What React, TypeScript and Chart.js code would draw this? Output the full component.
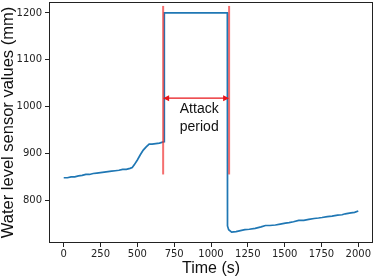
import React, { useEffect, useRef } from "react";
import { Chart, registerables } from "chart.js";

Chart.register(...registerables);

// ---- data ----
const timeS = [
  0, 25, 50, 75, 100, 125, 150, 175, 200, 225, 250, 275, 300, 325, 350, 375, 400, 425, 450, 465,
  480, 500, 520, 540, 560, 580, 600, 625, 650, 682, 683, 1111, 1112, 1120, 1140, 1170, 1200, 1230,
  1260, 1300, 1340, 1370, 1400, 1437, 1470, 1505, 1530, 1560, 1596, 1630, 1664, 1700, 1730, 1754,
  1790, 1822, 1860, 1890, 1912, 1950, 1975, 2000,
];
const waterLevel = [
  848, 848, 850, 850, 852, 853, 855, 855, 857, 858, 859, 860, 861, 862, 863, 864, 866, 866, 868, 870,
  876, 886, 897, 907, 914, 920, 920, 921, 922, 925, 1200, 1200, 745, 737, 732, 733, 735, 737,
  738, 740, 743, 746, 746, 747, 749, 751, 752, 754, 757, 757, 759, 761, 762, 763,
  765, 766, 768, 769, 771, 773, 774, 777,
];
const xTicks = [0, 250, 500, 750, 1000, 1250, 1500, 1750, 2000];
const yTicks = [800, 900, 1000, 1100, 1200];
const xRange = [-100, 2100];
const yRange = [708.6, 1223.4];

const attackStart = 675;
const attackEnd = 1123;
const markerLow = 855;
const markerHigh = 1215;
const arrowLevel = 1018;
const annotationLines = ["Attack", "period"];
const annotationX = 920;
const annotationY = 976;

const xLabel = "Time (s)";
const yLabel = "Water level sensor values (mm)";

const overlay = {
  id: "overlay",
  afterDatasetsDraw(chart: any) {
    const { ctx, chartArea: a, scales } = chart;
    const x = scales.x;
    const y = scales.y;
    ctx.save();
    // double-headed arrow
    const x1 = x.getPixelForValue(attackStart);
    const x2 = x.getPixelForValue(attackEnd);
    const yy = y.getPixelForValue(arrowLevel);
    ctx.strokeStyle = "#e8141a";
    ctx.fillStyle = "#e8141a";
    ctx.lineWidth = 1.3;
    ctx.beginPath();
    ctx.moveTo(x1 + 4, yy);
    ctx.lineTo(x2 - 4, yy);
    ctx.stroke();
    ctx.beginPath();
    ctx.moveTo(x1, yy);
    ctx.lineTo(x1 + 6, yy - 3);
    ctx.lineTo(x1 + 6, yy + 3);
    ctx.closePath();
    ctx.fill();
    ctx.beginPath();
    ctx.moveTo(x2, yy);
    ctx.lineTo(x2 - 6, yy - 3);
    ctx.lineTo(x2 - 6, yy + 3);
    ctx.closePath();
    ctx.fill();
    // annotation text
    ctx.fillStyle = "#111";
    ctx.font = '14px "Liberation Sans", Arial, sans-serif';
    ctx.textAlign = "center";
    ctx.textBaseline = "middle";
    const tx = x.getPixelForValue(annotationX);
    const ty = y.getPixelForValue(annotationY);
    const lh = 17.7;
    annotationLines.forEach((t, i) => {
      ctx.fillText(t, tx, ty + (i - (annotationLines.length - 1) / 2) * lh);
    });
    // frame
    ctx.strokeStyle = "#222";
    ctx.lineWidth = 1;
    ctx.strokeRect(
      Math.round(a.left) + 0.5,
      Math.round(a.top) + 0.5,
      Math.round(a.right - a.left) - 1,
      Math.round(a.bottom - a.top) - 1
    );
    ctx.restore();
  },
};

export default function App() {
  const ref = useRef<HTMLCanvasElement | null>(null);
  useEffect(() => {
    document.body.style.margin = "0";
    const canvas = ref.current;
    if (!canvas) return;
    const tickFont = { family: '"DejaVu Sans", sans-serif', size: 10 };
    const plain = (v: any) => String(v);
    const chart = new Chart(canvas, {
      type: "line",
      data: {
        datasets: [
          {
            label: "start",
            data: [
              { x: attackStart, y: markerLow },
              { x: attackStart, y: markerHigh },
            ],
            borderColor: "rgba(240, 50, 50, 0.7)",
            borderWidth: 2,
            pointRadius: 0,
          },
          {
            label: "end",
            data: [
              { x: attackEnd, y: markerLow },
              { x: attackEnd, y: markerHigh },
            ],
            borderColor: "rgba(240, 50, 50, 0.7)",
            borderWidth: 2,
            pointRadius: 0,
          },
          {
            label: "water level",
            data: timeS.map((t, i) => ({ x: t, y: waterLevel[i] })),
            borderColor: "#1f77b4",
            borderWidth: 1.7,
            pointRadius: 0,
            tension: 0,
          },
        ],
      },
      options: {
        responsive: false,
        animation: false,
        events: [],
        layout: { padding: { left: 0, right: 1, top: 2, bottom: 0 } },
        plugins: { legend: { display: false }, tooltip: { enabled: false } },
        scales: {
          x: {
            type: "linear",
            min: xRange[0],
            max: xRange[1],
            afterBuildTicks: (s: any) => {
              s.ticks = xTicks.map((v) => ({ value: v }));
            },
            afterFit: (s: any) => {
              s.height = 35;
              s.paddingLeft = 0;
              s.paddingRight = 0;
            },
            grid: { drawOnChartArea: false, drawTicks: true, tickLength: 4, color: "#222" },
            border: { display: false },
            ticks: { font: tickFont, color: "#222", padding: 1, maxRotation: 0, autoSkip: false, callback: plain },
            title: {
              display: true,
              text: xLabel,
              color: "#111",
              font: { family: '"Liberation Sans", Arial, sans-serif', size: 16, lineHeight: 1 },
              padding: { top: 1, bottom: 1 },
            },
          },
          y: {
            type: "linear",
            min: yRange[0],
            max: yRange[1],
            afterBuildTicks: (s: any) => {
              s.ticks = yTicks.map((v) => ({ value: v }));
            },
            afterFit: (s: any) => {
              s.width = 49;
              s.paddingTop = 0;
              s.paddingBottom = 0;
            },
            grid: { drawOnChartArea: false, drawTicks: true, tickLength: 4, color: "#222" },
            border: { display: false },
            ticks: { font: tickFont, color: "#222", padding: 3, autoSkip: false, callback: plain },
            title: {
              display: true,
              text: yLabel,
              color: "#111",
              font: { family: '"Liberation Sans", Arial, sans-serif', size: 16.5, lineHeight: 1 },
              padding: { top: 0, bottom: 0 },
            },
          },
        },
      },
      plugins: [overlay],
    } as any);
    return () => chart.destroy();
  }, []);
  return (
    <div style={{ position: "absolute", left: 0, top: 0 }}>
      <canvas ref={ref} width={374} height={278} />
    </div>
  );
}
